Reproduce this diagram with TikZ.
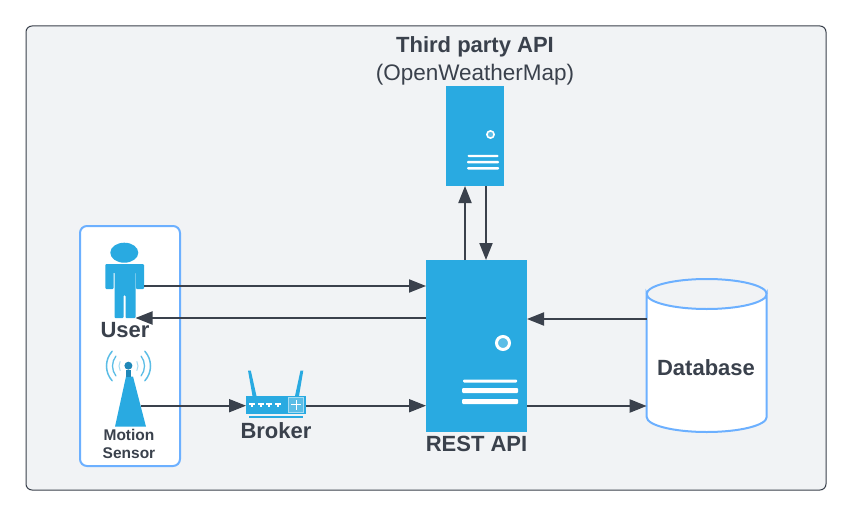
\documentclass[tikz,border=0pt]{standalone}
\usepackage{fontspec}
\setmainfont{Liberation Sans}
\usetikzlibrary{arrows.meta,calc}
\definecolor{ink}{HTML}{3A414C}
\definecolor{panel}{HTML}{F1F3F5}
\definecolor{edge}{HTML}{6CB0FF}
\definecolor{srv}{HTML}{29AAE1}
\definecolor{srvlt}{HTML}{5BBDE6}
\definecolor{srvpale}{HTML}{A6DCF3}
\definecolor{srvdk}{HTML}{1F87B8}
\tikzset{
  x=1pt,y=-1pt,
  arr/.style={draw=ink,line width=2pt,-{Triangle[length=17pt,width=13pt]}},
  lbl/.style={text=ink,font=\bfseries\fontsize{22}{25}\selectfont,inner sep=0pt,align=center},
  small/.style={text=ink,font=\bfseries\fontsize{15.5}{18.4}\selectfont,inner sep=0pt,align=center},
  box/.style={fill=srv,draw=none,inner sep=0pt,outer sep=0pt,rectangle},
  bar/.style={draw=none,fill=white,rounded corners=1pt},
  wave/.style={line cap=round},
}
\begin{document}
\begin{tikzpicture}
\useasboundingbox (0,0) rectangle (857,519);
\fill[white] (0,0) rectangle (857,519);
\draw[ink,fill=panel,line width=1pt,rounded corners=6pt] (26,26) rectangle (826,490);
\draw[edge,fill=white,line width=2pt,rounded corners=7pt] (80,226) rectangle (180,466);

% third party server
\node[box,minimum width=58pt,minimum height=100pt] (third) at (475,136) {};
\draw[white,fill=srvlt,line width=1.6pt] (490.5,134.5) circle (3.6);
\fill[bar] (467.5,154.8) rectangle (498.5,157);
\fill[bar] (467,160.8) rectangle (499,163.4);
\fill[bar] (467,167) rectangle (499,169.5);

% rest server
\node[box,minimum width=101pt,minimum height=172pt] (rest) at (476.5,346) {};
\draw[white,fill=srvlt,line width=3pt] (503,343) circle (6.5);
\fill[bar] (463,379.5) rectangle (517,382.5);
\fill[bar] (462,388) rectangle (518,393);
\fill[bar] (462,399) rectangle (518,404);

% user figure
\node[coordinate] (usere) at (144,286) {};
\node[coordinate] (users) at (135.5,318) {};
\fill[srv] (124.3,252.7) ellipse (14 and 10);
\fill[srv,rounded corners=1pt] (105.3,264) -- (144,264) -- (144,289) -- (136,289) -- (136,272) -- (135.5,272) -- (135.5,318) -- (125.5,318) -- (125.5,295) -- (123.5,295) -- (123.5,318) -- (114.5,318) -- (114.5,272) -- (113.5,272) -- (113.5,289) -- (105.3,289) -- cycle;

% sensor
\node[coordinate] (sensor) at (141,405.7) {};
\fill[srv] (126,376.5) -- (133,376.5) -- (146,426.7) -- (115,426.7) -- cycle;
\fill[srvdk] (126.3,370) rectangle (130.8,377);
\fill[srvdk] (128.4,365.7) circle (4);
\foreach \r/\a/\w/\c in {9.5/28/1/srvpale,16/38/1.3/srvlt,22/42/1.5/srvlt}{
  \draw[wave,draw=\c,line width=\w pt] (128.5,366) ++(180-\a:\r) arc[start angle=180-\a,end angle=180+\a,radius=\r];
  \draw[wave,draw=\c,line width=\w pt] (128.5,366) ++(\a:\r) arc[start angle=\a,end angle=-\a,radius=\r];
}

% router
\node[box,minimum width=60pt,minimum height=18pt] (router) at (276,405) {};
\fill[srv] (252.5,396) -- (256.5,396) -- (250.8,370.5) -- (248,370.5) -- cycle;
\fill[srv] (295,396) -- (299,396) -- (303.3,370.5) -- (300.5,370.5) -- cycle;
\draw[srv,line width=1.2pt] (249,417) -- (303,417);
\draw[srvpale,fill=srvlt,line width=.8pt] (288.5,397.5) rectangle (303.5,412);
\draw[white,line width=.8pt] (296,400) -- (296,409.5) (291,404.8) -- (301,404.8);
\foreach \x in {249,257.7,266.4,275} {
  \fill[white] (\x,402.8) rectangle (\x+6,404.8);
  \fill[white] (\x+2,404.8) rectangle (\x+4,407);
}

% database
\node[inner sep=0pt,outer sep=0pt,minimum width=120pt,minimum height=152.5pt] (db) at (706.7,355.3) {};
\draw[edge,fill=white,line width=2pt] (db.west |- 0,294) arc[start angle=180,end angle=360,x radius=60,y radius=-15]
  -- (db.east |- 0,417) arc[start angle=0,end angle=-180,x radius=60,y radius=-15] -- cycle;
\draw[edge,line width=2pt] (db.west |- 0,294) arc[start angle=180,end angle=360,x radius=60,y radius=15];
\node[lbl] (dblabel) at (706,367.2) {Database};

% labels
\node[lbl] (title) at (475,47.1) {Third party API};
\node[text=ink,font=\fontsize{22.5}{25}\selectfont,inner sep=0pt] (sub) at (475,74.4) {(OpenWeatherMap)};
\node[lbl] (userl) at (125,330.3) {User};
\node[small] (sensl) at (129,443.8) {Motion\\Sensor};
\node[lbl] (brokerl) at (276,430.3) {Broker};
\node[lbl] (restl) at (476.5,443.7) {REST API};

% connectors
\draw[arr] (usere) -- (usere -| rest.west);
\draw[arr] (users -| rest.west) -- (users);
\draw[arr] (sensor) -- (sensor -| router.west);
\draw[arr] (router.east |- sensor) -- (sensor -| rest.west);
\coordinate (up) at (465,0);
\coordinate (down) at (486,0);
\draw[arr] (up |- rest.north) -- (up |- third.south);
\draw[arr] (down |- third.south) -- (down |- rest.north);
\coordinate (dbin) at (0,406);
\coordinate (dbout) at (0,319);
\draw[arr] (dbout -| db.west) -- (dbout -| rest.east);
\draw[arr] (dbin -| rest.east) -- (dbin -| db.west);
\end{tikzpicture}
\end{document}
